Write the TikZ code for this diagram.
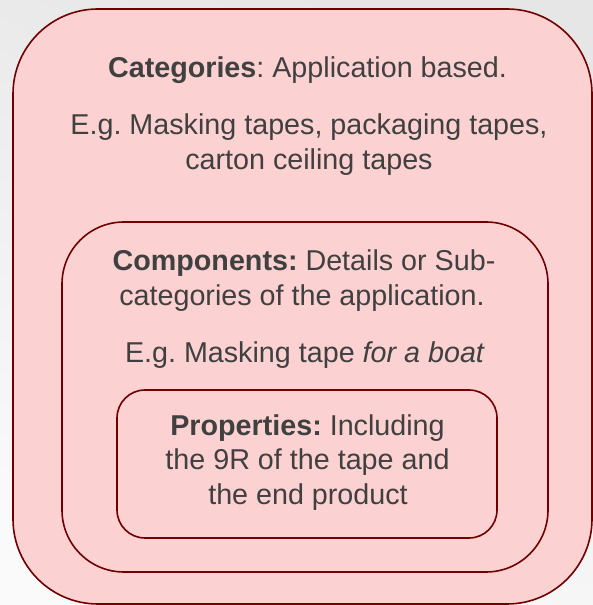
\documentclass[tikz,border=0pt]{standalone}
\usepackage{fontspec}
\setmainfont{Liberation Sans}
\definecolor{bgtop}{HTML}{E6E6E6}
\definecolor{bgbot}{HTML}{FAFAFA}
\definecolor{boxfill}{HTML}{FBD1D2}
\definecolor{boxline}{HTML}{700000}
\definecolor{txtcol}{HTML}{404040}
\begin{document}
\begin{tikzpicture}[x=1pt,y=1pt,
  box/.style={draw=boxline, fill=boxfill, line width=1.6pt, inner sep=0pt},
  txt/.style={text=txtcol, font=\fontsize{28.7}{34}\selectfont\frenchspacing, inner sep=0pt, anchor=base}]
\shade[top color=bgtop, bottom color=bgbot, shading angle=-20] (0,0) rectangle (593,605);
\useasboundingbox (0,0) rectangle (593,605);
\node[box, rounded corners=85pt, minimum width=579pt, minimum height=595pt] (outer) at (302.5,298.5) {};
\node[box, rounded corners=62pt, minimum width=486pt, minimum height=350pt] (middle) at (305,208) {};
\node[box, rounded corners=28pt, minimum width=380pt, minimum height=148pt] (inner) at (307,141) {};
\node[txt] (cat) at (307.5,527.5) {\textbf{Categories}: Application based.};
\node[txt] (catexa) at (309,470) {E.g. Masking tapes, packaging tapes,};
\node[txt] (catexb) at (309,435.5) {carton ceiling tapes};
\node[txt] (compa) at (304,334) {\textbf{Components:} Details or Sub-};
\node[txt] (compb) at (302,299.5) {categories of the application.};
\node[txt] (compex) at (305,242) {E.g. Masking tape \textit{for a boat}};
\node[txt] (propa) at (307.5,169.5) {\textbf{Properties:} Including};
\node[txt] (propb) at (307.5,135) {the 9R of the tape and};
\node[txt] (propc) at (308,100.5) {the end product};
\end{tikzpicture}
\end{document}
